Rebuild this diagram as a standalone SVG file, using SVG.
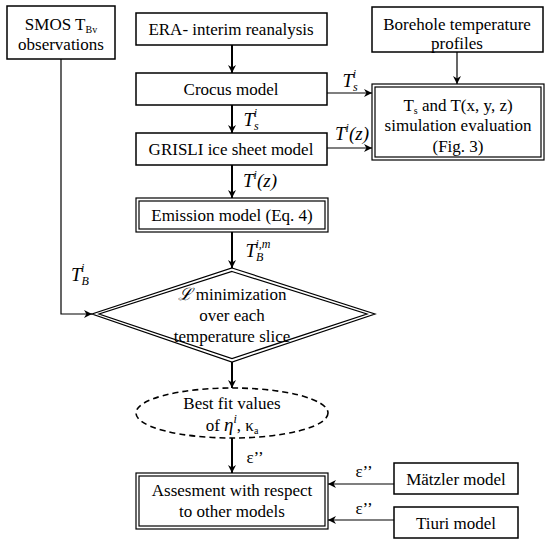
<svg xmlns="http://www.w3.org/2000/svg" width="550" height="545" viewBox="0 0 550 545">
<defs>
<marker id="ahs" viewBox="0 0 10 10" refX="10" refY="5" markerWidth="8" markerHeight="8" orient="auto" markerUnits="userSpaceOnUse">
<path d="M0,0 L10,5 L0,10 L3,5 z" fill="#000"/>
</marker>
</defs>
<style>
rect, polygon, ellipse { fill: #fff; stroke: #000; }
.b { stroke-width: 1.5; }
.d { stroke-width: 1.2; }
text { font-family: "Liberation Serif", "Times New Roman", serif; font-size: 17px; fill: #000; text-anchor: middle; }
.m { font-style: italic; font-size: 19px; }
.s { font-size: 12px; }
.ss { font-size: 10px; }
.c { stroke: #000; fill: none; }
.thick { stroke-width: 2; }
.thin { stroke-width: 1.2; }
</style>
<rect x="0" y="0" width="550" height="545" style="fill:#fff;stroke:none"/>

<g id="connectors">
<path class="c thin" d="M61,59 V314 H92" marker-end="url(#ahs)"/>
<path class="c thick" d="M232,45 V73" marker-end="url(#ahs)"/>
<path class="c thick" d="M232,105 V133" marker-end="url(#ahs)"/>
<path class="c thick" d="M232,165 V198" marker-end="url(#ahs)"/>
<path class="c thick" d="M232,232 V268" marker-end="url(#ahs)"/>
<path class="c thick" d="M232,362 V388" marker-end="url(#ahs)"/>
<path class="c thick" d="M232,438 V473" marker-end="url(#ahs)"/>
<path class="c thin" d="M457,52 V84" marker-end="url(#ahs)"/>
<path class="c thin" d="M327,93 H372" marker-end="url(#ahs)"/>
<path class="c thin" d="M327,148 H372" marker-end="url(#ahs)"/>
<path class="c thin" d="M394,484 H328" marker-end="url(#ahs)"/>
<path class="c thin" d="M394,520 H328" marker-end="url(#ahs)"/>
<text class="m" x="350" y="87">T<tspan class="s" dy="4">s</tspan><tspan class="s" dx="-5" dy="-13">i</tspan></text>
<text class="m" x="352" y="140">T<tspan class="s" dy="-8">i</tspan><tspan dy="8">(z)</tspan></text>
<text class="m" x="251" y="126">T<tspan class="s" dy="4">s</tspan><tspan class="s" dx="-5" dy="-13">i</tspan></text>
<text class="m" x="260" y="187">T<tspan class="s" dy="-8">i</tspan><tspan dy="8">(z)</tspan></text>
<text class="m" x="258" y="257">T<tspan class="s" dy="4">B</tspan><tspan class="s" dx="-8" dy="-13">i,m</tspan></text>
<text class="m" x="80" y="281">T<tspan class="s" dy="4">B</tspan><tspan class="s" dx="-8" dy="-13">i</tspan></text>
<text x="255" y="463">ε’’</text>
<text x="364" y="477">ε’’</text>
<text x="364" y="514">ε’’</text>
</g>

<g id="smos">
<rect class="b" x="7" y="6" width="108" height="53"/>
<text x="61" y="30">SMOS T<tspan class="ss" dy="3">Bv</tspan></text>
<text x="61" y="50">observations</text>
</g>

<g id="era">
<rect class="b" x="136" y="13" width="191" height="32"/>
<text x="231" y="35">ERA- interim reanalysis</text>
</g>

<g id="crocus">
<rect class="b" x="136" y="73" width="191" height="32"/>
<text x="231" y="95">Crocus model</text>
</g>

<g id="grisli">
<rect class="b" x="136" y="133" width="191" height="32"/>
<text x="231" y="155">GRISLI ice sheet model</text>
</g>

<g id="emission">
<rect class="d" x="136" y="198" width="192" height="34"/>
<rect class="d" x="139" y="201" width="186" height="28"/>
<text x="232" y="221">Emission model (Eq. 4)</text>
</g>

<g id="borehole">
<rect class="b" x="372" y="7" width="171" height="45"/>
<text x="457" y="30">Borehole temperature</text>
<text x="457" y="49">profiles</text>
</g>

<g id="evaluation">
<rect class="d" x="372" y="84" width="172" height="76"/>
<rect class="d" x="375" y="87" width="166" height="70"/>
<text x="458" y="111">T<tspan class="ss" dy="3">s</tspan><tspan dy="-3"> and T(x, y, z)</tspan></text>
<text x="458" y="131">simulation evaluation</text>
<text x="458" y="152">(Fig. 3)</text>
</g>

<g id="minimization">
<polygon class="d" points="232,268 375,314 232,362 92,314"/>
<polygon class="d" points="232,271.5 367,314 232,358.5 99,314"/>
<text x="232" y="300"><tspan font-family="DejaVu Serif, serif" font-style="italic">ℒ</tspan> minimization</text>
<text x="232" y="321">over each</text>
<text x="232" y="342">temperature slice</text>
</g>

<g id="bestfit">
<ellipse cx="232" cy="413" rx="96" ry="25" style="stroke-width:1.6;stroke-dasharray:6,4"/>
<text x="232" y="409">Best fit values</text>
<text x="232" y="431">of <tspan class="m">η</tspan><tspan class="s m" dy="-8">i</tspan><tspan dy="8">, κ</tspan><tspan class="ss" dy="3">a</tspan></text>
</g>

<g id="assessment">
<rect class="d" x="136" y="473" width="192" height="56"/>
<rect class="d" x="139" y="476" width="186" height="50"/>
<text x="232" y="496">Assesment with respect</text>
<text x="232" y="517">to other models</text>
</g>

<g id="matzler">
<rect class="b" x="394" y="463" width="124" height="31"/>
<text x="456" y="485">Mätzler model</text>
</g>

<g id="tiuri">
<rect class="b" x="394" y="507" width="124" height="31"/>
<text x="456" y="529">Tiuri model</text>
</g>
</svg>
